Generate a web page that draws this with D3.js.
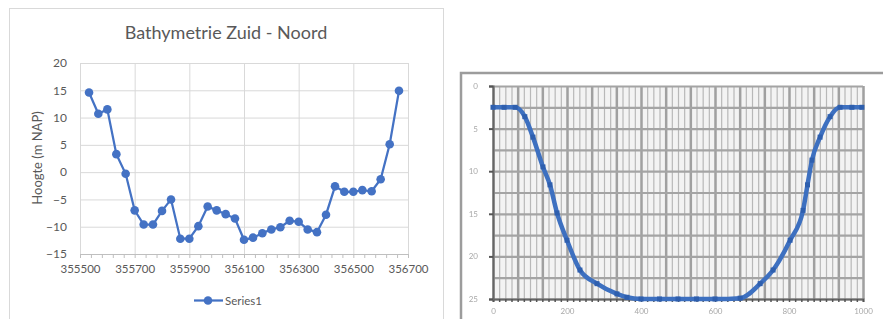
<!DOCTYPE html>
<html>
<head>
<meta charset="utf-8">
<script src="https://cdn.jsdelivr.net/npm/d3@7"></script>
<style>
body { margin: 0; background: #fff; }
svg { display: block; }
text { font-family: Lato, "Open Sans", sans-serif; }
</style>
</head>
<body>
<svg width="883" height="319"></svg>
<script>
// left chart: Bathymetrie Zuid - Noord
var afstand = [355533, 355567, 355600, 355633, 355667, 355700, 355733, 355767, 355800, 355833,
    355867, 355900, 355933, 355967, 356000, 356033, 356067, 356100, 356133, 356167,
    356200, 356233, 356267, 356300, 356333, 356367, 356400, 356433, 356467, 356500,
    356533, 356567, 356600, 356633, 356667]
var hoogte = [14.6, 10.7, 11.5, 3.3, -0.3, -7.0, -9.6, -9.6, -7.1, -5.0,
    -12.2, -12.2, -9.9, -6.3, -7.0, -7.7, -8.5, -12.4, -12.0, -11.2,
    -10.5, -10.1, -8.9, -9.1, -10.5, -11.0, -7.8, -2.6, -3.6, -3.6,
    -3.3, -3.5, -1.3, 5.1, 14.9]
var xTicks = [355500, 355700, 355900, 356100, 356300, 356500, 356700]
var yTicks = [-15, -10, -5, 0, 5, 10, 15, 20]

// right chart: the pasted cross-section picture
var profielX = [0, 30, 60, 86, 108, 135, 154, 173, 200, 235, 281, 335, 362, 400, 450, 500,
    550, 600, 668, 722, 757, 803, 838, 850, 862, 884, 911, 938, 970, 997]
var profielDiepte = [2.5, 2.5, 2.5, 3.6, 6.0, 9.5, 11.6, 14.9, 18.1, 21.6, 23.2, 24.4, 24.8, 25, 25, 25,
    25, 25, 24.9, 23.2, 21.6, 18.1, 14.6, 11.6, 8.7, 6.0, 3.6, 2.5, 2.5, 2.5]
var profielXTicks = [0, 200, 400, 600, 800, 1000]
var profielYTicks = [0, 5, 10, 15, 20, 25]

var blue = "#4472c4",
    grey = "#595959",
    grid = "#d9d9d9"

var svg = d3.select("svg")

drawLeft()
drawRight()

function drawLeft() {
    var g = svg.append("g")
    g.append("rect").attr("x", 9.5).attr("y", 8.5).attr("width", 434).attr("height", 330)
        .attr("fill", "#fff").attr("stroke", grid)

    var x = d3.scaleLinear().domain([355500, 356700]).range([80, 408])
    var y = d3.scaleLinear().domain([-15, 20]).range([254, 63])

    // gridlines
    g.append("g").attr("transform", "translate(0,254)")
        .call(d3.axisBottom(x).tickValues(xTicks).tickSize(-191).tickFormat(""))
        .call(a => a.select(".domain").remove())
        .selectAll("line").attr("stroke", grid)
    g.append("g").attr("transform", "translate(80,0)")
        .call(d3.axisLeft(y).tickValues(yTicks).tickSize(-328).tickFormat(""))
        .call(a => a.select(".domain").remove())
        .selectAll("line").attr("stroke", grid)

    // minor ticks under the axis
    g.append("g").attr("transform", "translate(0,254)")
        .call(d3.axisBottom(x).tickValues(d3.range(355500, 356701, 40)).tickSize(4).tickFormat(""))
        .call(a => a.select(".domain").attr("stroke", "#bfbfbf"))
        .selectAll("line").attr("stroke", "#bfbfbf")

    // labels
    g.append("g").attr("transform", "translate(0,254)")
        .call(d3.axisBottom(x).tickValues(xTicks).tickSize(0).tickPadding(11).tickFormat(d3.format("d")))
        .call(a => a.select(".domain").remove())
        .selectAll("text").attr("fill", grey).style("font-size", "11.5px")
    g.append("g").attr("transform", "translate(80,0)")
        .call(d3.axisLeft(y).tickValues(yTicks).tickSize(0).tickPadding(13))
        .call(a => a.select(".domain").remove())
        .selectAll("text").attr("fill", grey).style("font-size", "12px")

    g.append("text").attr("x", 226).attr("y", 39).attr("text-anchor", "middle")
        .attr("fill", grey).style("font-size", "18px").text("Bathymetrie Zuid - Noord")
    g.append("text").attr("transform", "translate(41.5,158) rotate(-90)").attr("text-anchor", "middle")
        .attr("fill", grey).style("font-size", "13px").text("Hoogte (m NAP)")

    var line = d3.line().x((d, i) => x(afstand[i])).y(d => y(d))
    g.append("path").datum(hoogte).attr("d", line)
        .attr("fill", "none").attr("stroke", blue).attr("stroke-width", 2.25)
    g.selectAll(".pt").data(hoogte).enter().append("circle").attr("class", "pt")
        .attr("cx", (d, i) => x(afstand[i])).attr("cy", d => y(d)).attr("r", 4.3)
        .attr("fill", blue)

    // legend
    g.append("line").attr("x1", 194).attr("x2", 223).attr("y1", 300.5).attr("y2", 300.5)
        .attr("stroke", blue).attr("stroke-width", 2.25)
    g.append("circle").attr("cx", 208).attr("cy", 300.5).attr("r", 4.3).attr("fill", blue)
    g.append("text").attr("x", 225).attr("y", 304.5).attr("fill", grey)
        .style("font-size", "11.5px").text("Series1")
}

function drawRight() {
    var defs = svg.append("defs")
    defs.append("filter").attr("id", "blur").append("feGaussianBlur").attr("stdDeviation", 0.7)

    var g = svg.append("g").attr("filter", "url(#blur)")
    g.append("rect").attr("x", 461).attr("y", 73).attr("width", 440).attr("height", 270)
        .attr("fill", "#fff").attr("stroke", "#9c9c9c").attr("stroke-width", 2.5)

    var x = d3.scaleLinear().domain([0, 1000]).range([493, 863])
    var y = d3.scaleLinear().domain([0, 25]).range([86, 299])

    g.append("rect").attr("x", 493).attr("y", 86).attr("width", 370).attr("height", 213).attr("fill", "#f3f3f3")

    // fine vertical grid, then coarse grid
    g.append("g").attr("transform", "translate(0,299)")
        .call(d3.axisBottom(x).tickValues(d3.range(0, 1001, 1000 / 60)).tickSize(-213).tickFormat(""))
        .call(a => a.select(".domain").remove())
        .selectAll("line").attr("stroke", "#b8b8b8").attr("stroke-width", 1.2)
    g.append("g").attr("transform", "translate(0,299)")
        .call(d3.axisBottom(x).tickValues(d3.range(0, 1001, 1000 / 15)).tickSize(-213).tickFormat(""))
        .call(a => a.select(".domain").remove())
        .selectAll("line").attr("stroke", "#a0a0a0").attr("stroke-width", 2.5)
    g.append("g").attr("transform", "translate(493,0)")
        .call(d3.axisLeft(y).tickValues(d3.range(0, 25.1, 2.5)).tickSize(-370).tickFormat(""))
        .call(a => a.select(".domain").remove())
        .selectAll("line").attr("stroke", "#a4a4a4").attr("stroke-width", 2.2)

    // axes
    g.append("g").attr("transform", "translate(0,299)")
        .call(d3.axisBottom(x).tickValues(d3.range(0, 1001, 1000 / 60)).tickSize(3).tickFormat(""))
        .call(a => a.select(".domain").attr("stroke", "#666").attr("stroke-width", 2))
        .selectAll("line").attr("stroke", "#555").attr("stroke-width", 1.5)
    g.append("g").attr("transform", "translate(493,0)")
        .call(d3.axisLeft(y).tickValues(profielYTicks).tickSize(4).tickFormat(""))
        .call(a => a.select(".domain").attr("stroke", "#666").attr("stroke-width", 2))
        .selectAll("line").attr("stroke", "#555").attr("stroke-width", 2)

    g.append("g").attr("transform", "translate(0,299)")
        .call(d3.axisBottom(x).tickValues(profielXTicks).tickSize(0).tickPadding(9).tickFormat(d3.format("d")))
        .call(a => a.select(".domain").remove())
        .selectAll("text").attr("fill", "#a8a8a8").style("font-size", "8px")
    g.append("g").attr("transform", "translate(493,0)")
        .call(d3.axisLeft(y).tickValues(profielYTicks).tickSize(0).tickPadding(15))
        .call(a => a.select(".domain").remove())
        .selectAll("text").attr("fill", "#a8a8a8").style("font-size", "8px")

    var line = d3.line().x((d, i) => x(profielX[i])).y(d => y(d)).curve(d3.curveMonotoneX)
    g.append("path").datum(profielDiepte).attr("d", line)
        .attr("fill", "none").attr("stroke", "#3d6fc0").attr("stroke-width", 4.5)
    g.selectAll(".pm").data(profielDiepte).enter().append("rect").attr("class", "pm")
        .attr("x", (d, i) => x(profielX[i]) - 2.5).attr("y", d => y(d) - 2.5)
        .attr("width", 5).attr("height", 5).attr("fill", "#2f5fae")
}
</script>
</body>
</html>
